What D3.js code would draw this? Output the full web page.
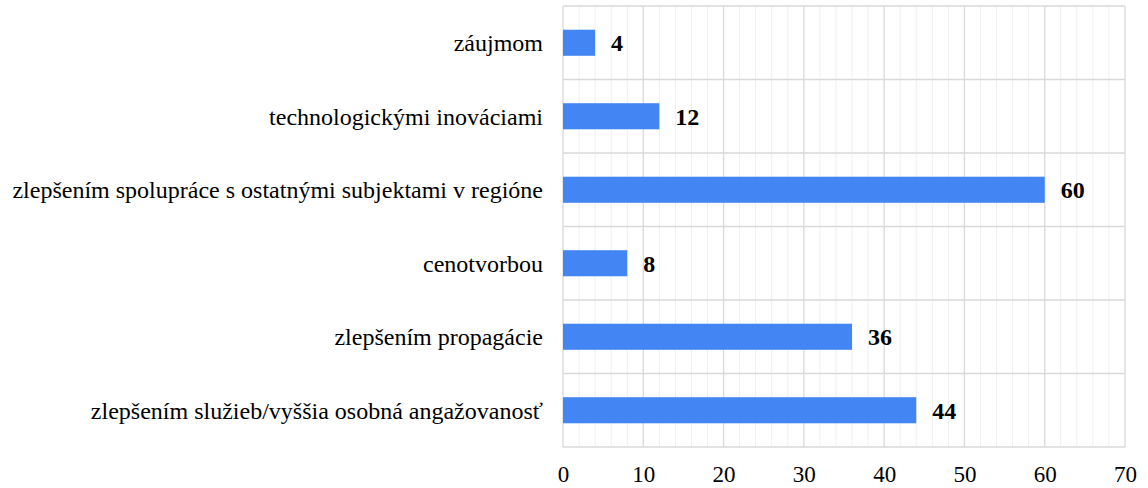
<!DOCTYPE html>
<html>
<head>
<meta charset="utf-8">
<script src="https://cdn.jsdelivr.net/npm/d3@7"></script>
<style>
  body { margin: 0; background: #fff; }
</style>
</head>
<body>
<div id="chart"></div>
<script>
const WIDTH = 1148;
const HEIGHT = 488;

const categories = [
  "záujmom",
  "technologickými inováciami",
  "zlepšením spolupráce s ostatnými subjektami v regióne",
  "cenotvorbou",
  "zlepšením propagácie",
  "zlepšením služieb/vyššia osobná angažovanosť"
];
const values = [4, 12, 60, 8, 36, 44];
const xTicks = [0, 10, 20, 30, 40, 50, 60, 70];

const MARGIN = { top: 6, right: 23, bottom: 41, left: 563 };
const FONT = '"Liberation Serif", "Times New Roman", serif';

const svg = d3.select("#chart").append("svg")
  .attr("width", WIDTH)
  .attr("height", HEIGHT);

const xScale = d3.scaleLinear().domain([0, 70]).range([MARGIN.left, WIDTH - MARGIN.right]);
const yScale = d3.scaleBand().domain(categories).range([MARGIN.top, HEIGHT - MARGIN.bottom]);

// minor grid
svg.append("g")
  .selectAll("line")
  .data(d3.range(0, 71, 2).filter(d => d % 10 !== 0))
  .join("line")
  .attr("x1", d => xScale(d)).attr("x2", d => xScale(d))
  .attr("y1", MARGIN.top).attr("y2", HEIGHT - MARGIN.bottom)
  .attr("stroke", "#efefef").attr("stroke-width", 1);

// major grid
svg.append("g")
  .selectAll("line")
  .data(xTicks)
  .join("line")
  .attr("x1", d => xScale(d)).attr("x2", d => xScale(d))
  .attr("y1", MARGIN.top).attr("y2", HEIGHT - MARGIN.bottom)
  .attr("stroke", "#d9d9d9").attr("stroke-width", 1.3);

// horizontal band lines
const bandEdges = categories.map(c => yScale(c)).concat([HEIGHT - MARGIN.bottom]);
svg.append("g")
  .selectAll("line")
  .data(bandEdges)
  .join("line")
  .attr("x1", MARGIN.left).attr("x2", WIDTH - MARGIN.right)
  .attr("y1", d => d).attr("y2", d => d)
  .attr("stroke", "#d9d9d9").attr("stroke-width", 1.3);

// bars
const barH = yScale.bandwidth() * 0.355;
svg.append("g")
  .selectAll("rect")
  .data(categories)
  .join("rect")
  .attr("x", xScale(0))
  .attr("y", d => yScale(d) + yScale.bandwidth() / 2 - barH / 2)
  .attr("width", (d, i) => xScale(values[i]) - xScale(0))
  .attr("height", barH)
  .attr("fill", "#4485f4");

// value labels
svg.append("g")
  .selectAll("text")
  .data(categories)
  .join("text")
  .attr("x", (d, i) => xScale(values[i]) + 16)
  .attr("y", d => yScale(d) + yScale.bandwidth() / 2)
  .attr("dy", "0.35em")
  .style("font-family", FONT)
  .style("font-size", "24px")
  .style("font-weight", "bold")
  .attr("fill", "#000")
  .text((d, i) => values[i]);

// category labels
svg.append("g")
  .selectAll("text")
  .data(categories)
  .join("text")
  .attr("x", MARGIN.left - 20)
  .attr("y", d => yScale(d) + yScale.bandwidth() / 2)
  .attr("dy", "0.35em")
  .attr("text-anchor", "end")
  .style("font-family", FONT)
  .style("font-size", "24px")
  .attr("fill", "#000")
  .text(d => d);

// x axis
const xAxis = svg.append("g")
  .attr("transform", "translate(0," + (HEIGHT - MARGIN.bottom) + ")")
  .call(d3.axisBottom(xScale).tickValues(xTicks).tickSize(0).tickPadding(19));
xAxis.select(".domain").remove();
xAxis.selectAll("text")
  .style("font-family", FONT)
  .style("font-size", "23px")
  .attr("fill", "#000");
</script>
</body>
</html>
